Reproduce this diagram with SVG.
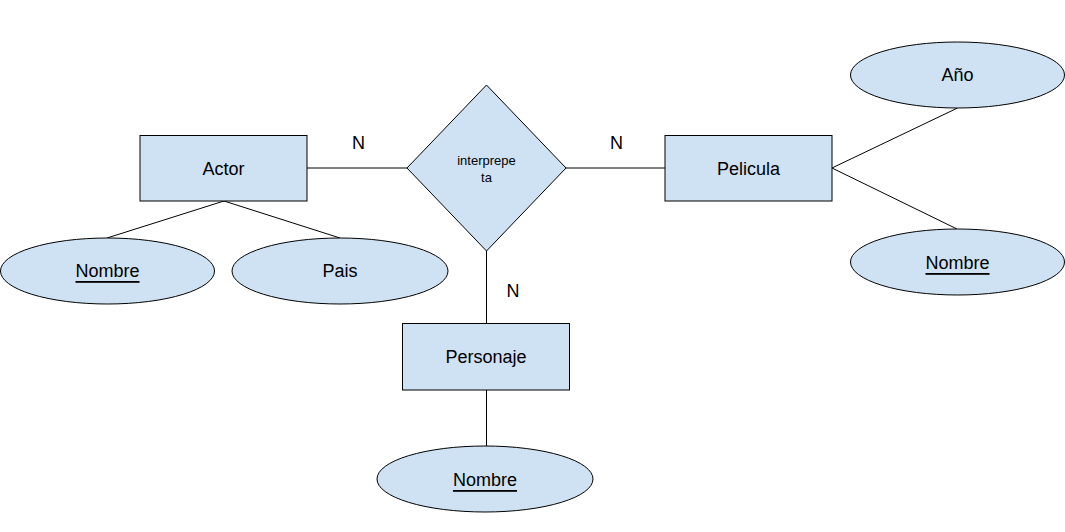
<svg xmlns="http://www.w3.org/2000/svg" width="1065" height="532" viewBox="0 0 1065 532">
<style>
.shape{fill:#cfe2f3;stroke:#000;stroke-width:1}
.conn line{stroke:#000;stroke-width:1}
text{font-family:"Liberation Sans",Arial,sans-serif;font-size:18px;fill:#000;text-anchor:middle;dominant-baseline:central}
.u{text-decoration:underline}
.small{font-size:13px}
</style>
<rect width="1065" height="532" fill="#fff"/>
<g id="connectors" class="conn">
<line x1="307" y1="168" x2="407" y2="168"/>
<line x1="566" y1="168" x2="665" y2="168"/>
<line x1="486.5" y1="251" x2="486.5" y2="323"/>
<line x1="486.5" y1="390" x2="486.5" y2="446"/>
<line x1="224" y1="201" x2="107" y2="238"/>
<line x1="224" y1="201" x2="340" y2="238"/>
<line x1="832" y1="168" x2="957.5" y2="108"/>
<line x1="832" y1="168" x2="957" y2="229"/>
</g>
<g id="actor"><rect class="shape" x="140" y="135.5" width="167" height="65.5"/><text x="223.5" y="169">Actor</text></g>
<g id="interprepeta"><polygon class="shape" points="486.5,85 566,168 486.5,251 407,168"/><text class="small" x="486.5" y="160">interprepe</text><text class="small" x="486.5" y="177">ta</text></g>
<g id="pelicula"><rect class="shape" x="665" y="135.5" width="167" height="65.5"/><text x="748.5" y="169">Pelicula</text></g>
<g id="personaje"><rect class="shape" x="402.5" y="323.5" width="167" height="66.5"/><text x="486" y="357">Personaje</text></g>
<g id="actor-nombre"><ellipse class="shape" cx="107.5" cy="271" rx="107" ry="33"/><text class="u" x="107.5" y="271">Nombre</text></g>
<g id="actor-pais"><ellipse class="shape" cx="340" cy="271" rx="108" ry="33"/><text x="340" y="271">Pais</text></g>
<g id="pelicula-anio"><ellipse class="shape" cx="957.5" cy="75" rx="107" ry="33"/><text x="957.5" y="75">Año</text></g>
<g id="pelicula-nombre"><ellipse class="shape" cx="957.5" cy="262" rx="107" ry="33"/><text class="u" x="957.5" y="263">Nombre</text></g>
<g id="personaje-nombre"><ellipse class="shape" cx="485" cy="479" rx="108" ry="33"/><text class="u" x="485" y="480">Nombre</text></g>
<g id="labels"><text x="358.5" y="143">N</text><text x="616.5" y="143">N</text><text x="513" y="291">N</text></g>
</svg>
